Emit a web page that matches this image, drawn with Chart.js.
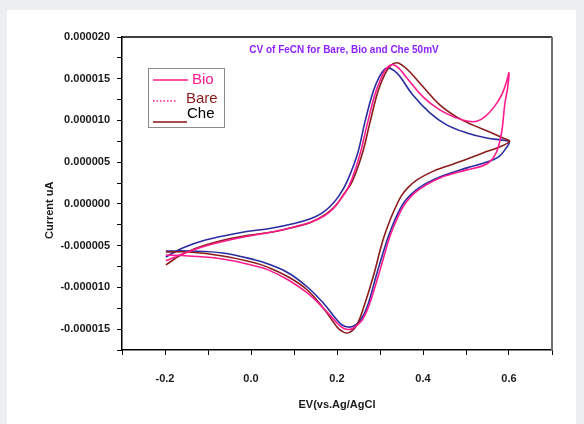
<!DOCTYPE html>
<html>
<head>
<meta charset="utf-8">
<script src="https://cdn.jsdelivr.net/npm/chart.js@4.4.1/dist/chart.umd.min.js"></script>
<style>
  body { margin: 0; background: #eceef1; }
  #panel { position: absolute; left: 7px; top: 10px; width: 569px; height: 414px; background: #fff; }
</style>
</head>
<body>
<div id="panel"><canvas id="cvChart" width="569" height="414"></canvas></div>
<script>
// potential (V) and current (x1e-6 A), forward scan then reverse
const bioE = [-0.198, -0.159, -0.106, -0.029, 0.050, 0.100, 0.140, 0.170, 0.192, 0.210, 0.228, 0.251, 0.270, 0.288, 0.302, 0.316, 0.330, 0.345, 0.362, 0.400, 0.439, 0.478, 0.505, 0.525, 0.545, 0.565, 0.583, 0.594, 0.600,
              0.597, 0.590, 0.583, 0.571, 0.555, 0.535, 0.502, 0.439, 0.405, 0.380, 0.364, 0.353, 0.343, 0.332, 0.321, 0.298, 0.274, 0.259, 0.247, 0.233, 0.219, 0.207, 0.200, 0.168, 0.131, 0.087, 0.040, 0.010, -0.066, -0.145, -0.198];
const bioI = [-6.80, -6.00, -5.04, -4.08, -3.36, -2.75, -2.15, -1.45, -0.50, 0.70, 2.16, 5.52, 9.47, 13.07, 15.00, 16.30, 16.67, 16.20, 15.11, 12.83, 11.27, 10.31, 9.90, 9.90, 10.50, 11.60, 13.07, 14.60, 15.71,
              14.00, 11.87, 8.63, 6.23, 5.04, 4.50, 4.08, 3.12, 2.20, 1.30, 0.40, -0.40, -1.40, -2.70, -4.20, -8.27, -12.23, -13.90, -14.51, -15.00, -14.99, -14.60, -14.27, -12.47, -10.67, -9.11, -7.90, -7.43, -6.59, -6.23, -6.11];

const bareE = [-0.198, -0.159, -0.106, -0.029, 0.050, 0.100, 0.140, 0.175, 0.197, 0.215, 0.235, 0.258, 0.277, 0.295, 0.310, 0.325, 0.339, 0.352, 0.369, 0.400, 0.439, 0.478, 0.515, 0.555, 0.590, 0.601,
               0.578, 0.539, 0.485, 0.450, 0.423, 0.386, 0.365, 0.350, 0.338, 0.326, 0.307, 0.284, 0.260, 0.248, 0.237, 0.223, 0.210, 0.200, 0.168, 0.131, 0.087, 0.040, 0.010, -0.066, -0.145, -0.198];
const bareI = [-7.31, -6.00, -4.92, -3.96, -3.36, -2.80, -2.20, -1.20, -0.20, 1.10, 2.64, 5.88, 9.83, 13.43, 15.40, 16.60, 16.91, 16.60, 15.83, 14.03, 11.87, 10.43, 9.47, 8.63, 7.80, 7.50,
               6.83, 6.11, 5.04, 4.42, 3.90, 2.88, 1.95, 1.00, -0.20, -1.60, -4.32, -8.75, -12.71, -14.30, -15.11, -15.47, -15.20, -14.75, -12.47, -10.31, -8.75, -7.60, -7.07, -6.23, -5.76, -5.76];

const cheE = [-0.198, -0.159, -0.106, -0.029, 0.050, 0.100, 0.140, 0.165, 0.185, 0.205, 0.223, 0.247, 0.265, 0.284, 0.298, 0.310, 0.320, 0.332, 0.346, 0.376, 0.416, 0.455, 0.502, 0.548, 0.590, 0.601,
              0.592, 0.575, 0.545, 0.502, 0.439, 0.405, 0.380, 0.362, 0.351, 0.341, 0.329, 0.316, 0.293, 0.270, 0.255, 0.240, 0.226, 0.212, 0.200, 0.168, 0.131, 0.087, 0.040, 0.010, -0.066, -0.145, -0.198];
const cheI = [-6.35, -5.28, -4.32, -3.48, -2.88, -2.35, -1.75, -1.10, -0.25, 1.00, 2.64, 5.88, 9.83, 13.43, 15.20, 16.10, 16.30, 16.00, 15.30, 13.07, 10.91, 9.47, 8.51, 7.91, 7.60, 7.45,
              6.60, 5.60, 4.95, 4.32, 3.24, 2.40, 1.50, 0.60, -0.20, -1.20, -2.60, -4.40, -8.27, -12.35, -13.90, -14.60, -14.75, -14.50, -13.91, -11.87, -9.95, -8.27, -7.20, -6.71, -5.88, -5.64, -5.64];

const seriesNames = ['Bio', 'Bare', 'Che'];
const chartTitle = 'CV of FeCN for Bare, Bio and Che 50mV';
const xTitle = 'EV(vs.Ag/AgCl';
const yTitle = 'Current uA';

const FONT = '"Liberation Sans", Arial, sans-serif';

function toPoints(xs, ys) {
    return xs.map((x, i) => ({ x: x, y: ys[i] }));
}

const overlay = {
    id: 'overlay',
    afterDraw(chart) {
        const { ctx, chartArea: a } = chart;
        ctx.save();
        // frame top and right
        ctx.lineWidth = 1.5;
        ctx.strokeStyle = '#000';
        ctx.beginPath();
        ctx.moveTo(a.left, a.top);
        ctx.lineTo(a.right, a.top);
        ctx.stroke();
        ctx.strokeStyle = '#707070';
        ctx.lineWidth = 2;
        ctx.beginPath();
        ctx.moveTo(a.right, a.top);
        ctx.lineTo(a.right, a.bottom);
        ctx.stroke();

        // title inside plot
        ctx.fillStyle = '#8f22ff';
        ctx.font = 'bold 10px ' + FONT;
        ctx.textAlign = 'center';
        ctx.textBaseline = 'middle';
        ctx.fillText(chartTitle, (a.left + a.right) / 2 + 7, a.top + 13);

        // legend box
        const bx = a.left + 26, by = a.top + 31;
        ctx.strokeStyle = '#8c8c8c';
        ctx.lineWidth = 1;
        ctx.strokeRect(bx + 0.5, by + 0.5, 76, 59);
        ctx.font = '15px ' + FONT;
        ctx.textAlign = 'left';

        ctx.strokeStyle = '#ff1a8c';
        ctx.lineWidth = 1.5;
        ctx.beginPath();
        ctx.moveTo(bx + 5, by + 12);
        ctx.lineTo(bx + 40, by + 12);
        ctx.stroke();
        ctx.fillStyle = '#ff1a8c';
        ctx.fillText(seriesNames[0], bx + 44, by + 12);

        ctx.setLineDash([1.5, 2]);
        ctx.beginPath();
        ctx.moveTo(bx + 5, by + 33);
        ctx.lineTo(bx + 29, by + 33);
        ctx.stroke();
        ctx.setLineDash([]);
        ctx.fillStyle = '#8b1c1c';
        ctx.fillText(seriesNames[1], bx + 38, by + 31);

        ctx.strokeStyle = '#8b1010';
        ctx.beginPath();
        ctx.moveTo(bx + 5, by + 54);
        ctx.lineTo(bx + 39, by + 54);
        ctx.stroke();
        ctx.fillStyle = '#000';
        ctx.fillText(seriesNames[2], bx + 39, by + 46);
        ctx.restore();
    }
};

function cvDataset(label, xs, ys, colour) {
    return {
        label: label,
        data: toPoints(xs, ys),
        borderColor: colour,
        borderWidth: 1.6,
        showLine: true,
        pointRadius: 0,
        tension: 0.4
    };
}

const ctx = document.getElementById('cvChart').getContext('2d');
const cvChart = new Chart(ctx, {
    type: 'scatter',
    data: {
        datasets: [
            cvDataset(seriesNames[0], bioE, bioI, '#ff1a8c'),
            cvDataset(seriesNames[1], bareE, bareI, '#8b1c1c'),
            cvDataset(seriesNames[2], cheE, cheI, '#2a2ca0')
        ]
    },
    options: {
        responsive: false,
        animation: false,
        layout: { padding: { left: 0, top: 27, right: 24, bottom: 0 } },
        plugins: {
            legend: { display: false },
            tooltip: { enabled: false }
        },
        scales: {
            x: {
                type: 'linear',
                min: -0.3,
                max: 0.7,
                afterFit: (s) => { s.height = 74; },
                border: { display: true, color: '#000', width: 1.5 },
                grid: { drawOnChartArea: false, drawTicks: true, tickLength: 5, tickColor: '#000' },
                ticks: {
                    stepSize: 0.1,
                    padding: 17,
                    color: '#1a1a1a',
                    font: { family: FONT, size: 11, weight: 'bold' },
                    maxRotation: 0,
                    autoSkip: false,
                    callback: (v) => Math.abs(Math.round(v * 10)) % 2 === 0 ? v.toFixed(1) : ''
                },
                title: {
                    display: true,
                    text: xTitle,
                    color: '#1a1a1a',
                    font: { family: FONT, size: 11, weight: 'bold' },
                    padding: { top: 0, bottom: 12 }
                }
            },
            y: {
                type: 'linear',
                min: -17.5,
                max: 20,
                afterFit: (s) => { s.width = 115; },
                border: { display: true, color: '#000', width: 1.5 },
                grid: { drawOnChartArea: false, drawTicks: true, tickLength: 5, tickColor: '#000' },
                ticks: {
                    stepSize: 2.5,
                    padding: 7,
                    color: '#1a1a1a',
                    font: { family: FONT, size: 11, weight: 'bold' },
                    autoSkip: false,
                    callback: (v) => Math.round(v * 2) % 10 === 0 ? (v * 1e-6).toFixed(6) : ''
                },
                title: {
                    display: true,
                    text: yTitle + '\u00a0\u00a0\u00a0\u00a0\u00a0\u00a0\u00a0\u00a0\u00a0\u00a0\u00a0',
                    color: '#1a1a1a',
                    font: { family: FONT, size: 11, weight: 'bold' },
                    padding: { top: 36, bottom: 0 }
                }
            }
        }
    },
    plugins: [overlay]
});
</script>
</body>
</html>
